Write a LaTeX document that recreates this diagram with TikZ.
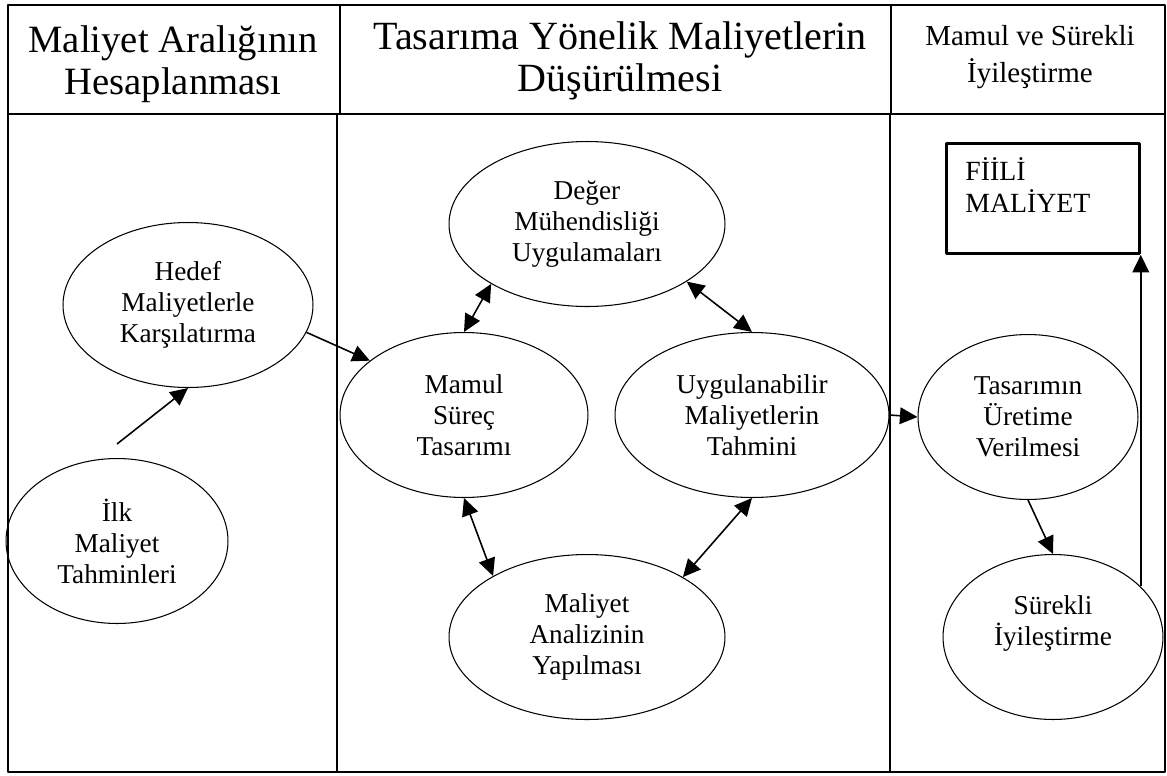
\documentclass[tikz,border=0pt]{standalone}
\usepackage{fontspec}
\setmainfont{Liberation Serif}
\usetikzlibrary{shapes.geometric,arrows.meta}
\begin{document}
\begin{tikzpicture}[x=0.02cm, y=-0.02cm, line join=round, >={Triangle[length=10pt,width=9.5pt]}]
\tikzset{ell/.style={ellipse, draw, line width=0.6pt, inner sep=0pt, minimum height=3.3cm, minimum width=#1, align=center, font=\fontsize{15.5}{17.6}\selectfont},
  arr/.style={->, line width=0.9pt}, darr/.style={<->, line width=0.9pt},
  head/.style={align=center, inner sep=0pt}, frame/.style={line width=1.6pt}}
\useasboundingbox (0,0) rectangle (1167,775);
\draw[frame] (8,5) rectangle (1165,772);
\draw[frame] (8,114)--(1165,114);
\draw[frame] (340,5)--(340,114) (891,5)--(891,114);
\draw[frame] (337,114)--(337,772) (890,114)--(890,772);
\node[head, font=\fontsize{22}{24}\selectfont] (h1) at (173,64) {Maliyet Aralığının\\Hesaplanması};
\node[head, font=\fontsize{22.8}{23.5}\selectfont] (h2) at (620,61) {Tasarıma Yönelik Maliyetlerin\\Düşürülmesi};
\node[head, font=\fontsize{16.5}{21.5}\selectfont] (h3) at (1030,57) {Mamul ve Sürekli\\İyileştirme};
\node[ell=5cm] (hedef) at (188,305) {Hedef\\Maliyetlerle\\Karşılatırma};
\node[ell=4.44cm] (ilk) at (117,541) {İlk\\Maliyet\\Tahminleri};
\node[ell=4.96cm] (mamul) at (464,415) {Mamul\\Süreç\\Tasarımı};
\node[ell=5.48cm] (uygu) at (752,415) {Uygulanabilir\\Maliyetlerin\\Tahmini};
\node[ell=5.52cm] (deger) at (587,224) {Değer\\Mühendisliği\\Uygulamaları};
\node[ell=5.52cm] (analiz) at (587,637) {Maliyet\\Analizinin\\Yapılması};
\node[ell=4.4cm] (tasarim) at (1028,417) {Tasarımın\\Üretime\\Verilmesi};
\node[ell=4.4cm] (surekli) at (1053,637) {Sürekli\\İyileştirme\\[-4pt]\strut};
\node[draw, frame, anchor=north west, inner xsep=0.38cm, text width=3.1cm, minimum height=2.2cm, align=left, font=\fontsize{15.8}{17.8}\selectfont] (fiili) at (945,142) {FİİLİ\\MALİYET\\[-8pt]\strut};
\draw[arr] ([yshift=0.28cm]ilk.north) -- (hedef.south);
\draw[arr] (hedef.-13) -- (mamul.150);
\draw[darr] (mamul.north) -- (deger.212);
\draw[darr] (deger.-30) -- (uygu.north);
\draw[darr] (mamul.south) -- (analiz.147);
\draw[darr] (uygu.south) -- (analiz.32);
\draw[arr] (uygu.east) -- (tasarim.west);
\draw[arr] (tasarim.south) -- (surekli.north);
\draw[arr] (fiili.south east |- surekli.30) -- (fiili.south east);
\end{tikzpicture}
\end{document}
